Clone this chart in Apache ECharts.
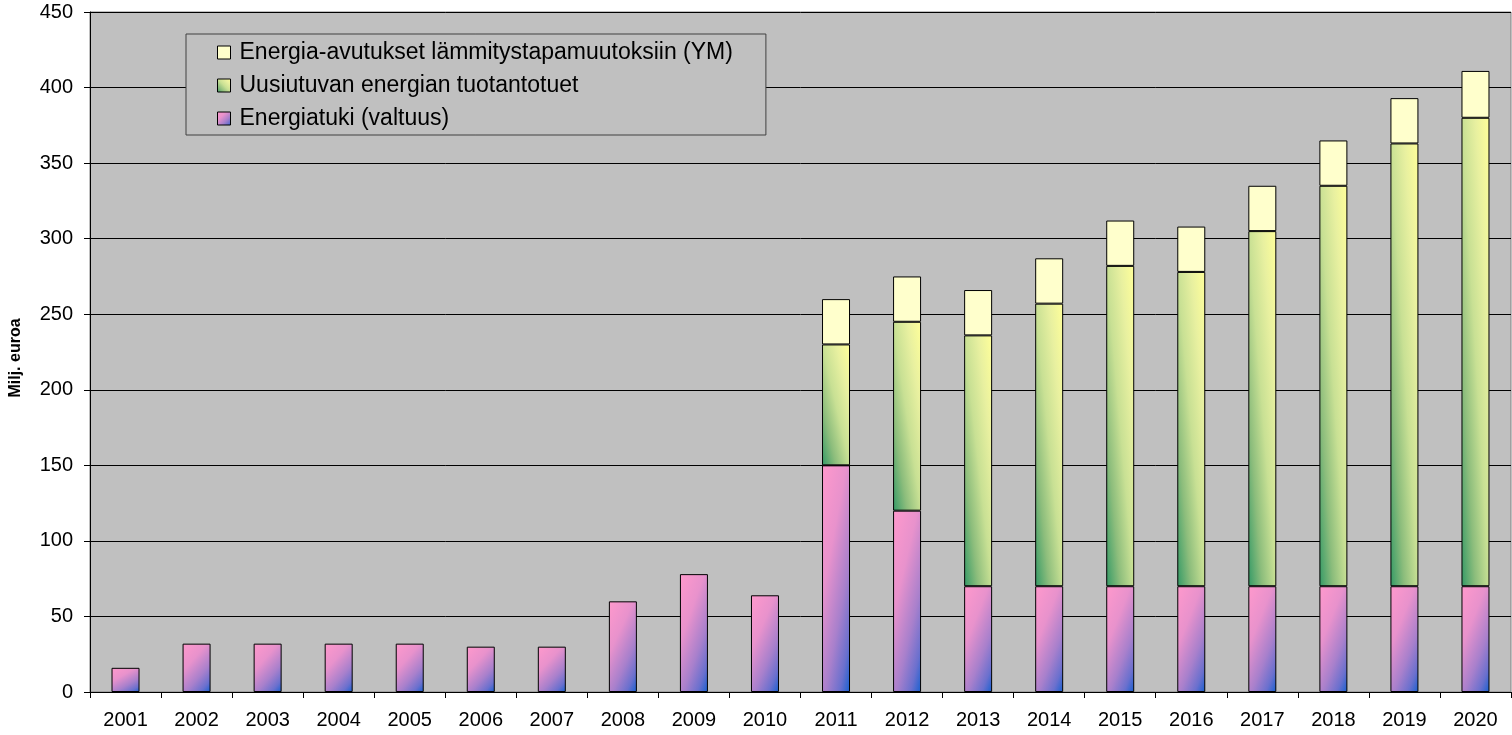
<!DOCTYPE html>
<html>
<head>
<meta charset="utf-8">
<script src="https://cdn.jsdelivr.net/npm/echarts@6/dist/echarts.min.js"></script>
<style>
  html, body { margin: 0; padding: 0; background: #ffffff; }
  #chart { width: 1512px; height: 735px; }
</style>
</head>
<body>
<div id="chart"></div>
<script>
const years = ['2001','2002','2003','2004','2005','2006','2007','2008','2009','2010',
               '2011','2012','2013','2014','2015','2016','2017','2018','2019','2020'];
const energiatuki = [16, 32, 32, 32, 32, 30, 30, 60, 78, 64, 150, 120, 70, 70, 70, 70, 70, 70, 70, 70];
const uusiutuva   = [null, null, null, null, null, null, null, null, null, null, 80, 125, 166, 187, 212, 208, 235, 265, 293, 310];
const lammitys    = [null, null, null, null, null, null, null, null, null, null, 30, 30, 30, 30, 30, 30, 30, 30, 30, 31];
const yTicks = { min: 0, max: 450, interval: 50 };
const names = {
  tuki: 'Energiatuki (valtuus)',
  uusi: 'Uusiutuvan energian tuotantotuet',
  lamm: 'Energia-avutukset lämmitystapamuutoksiin (YM)'
};

const FONT = "'Liberation Sans', Arial, sans-serif";
const GRID = { left: 89, right: 1, top: 12, bottom: 43 };
const BAR_W = 28;
const chart = echarts.init(document.getElementById('chart'));
const pxPerUnit = (chart.getHeight() - GRID.top - GRID.bottom) / (yTicks.max - yTicks.min);

const PINK_STOPS = [
  { offset: 0, color: '#FF99CC' },
  { offset: 0.35, color: '#E892CC' },
  { offset: 0.65, color: '#A880CC' },
  { offset: 0.85, color: '#6A70CE' },
  { offset: 1, color: '#1560D0' }
];
const GREEN_STOPS = [
  { offset: 0, color: '#339966' },
  { offset: 0.25, color: '#8CBD7C' },
  { offset: 0.5, color: '#C8E094' },
  { offset: 0.75, color: '#E8F0A0' },
  { offset: 1, color: '#FFFF99' }
];
const CREAM = '#FFFFCC';

// slanted "corner" gradient: t = a*x/w + (1-a)*y/h  (in the bar's own box)
function grad(h, fromBottom, stops, a) {
  const w = BAR_W;
  h = Math.max(h, 1);
  const g2 = a * a / (w * w) + (1 - a) * (1 - a) / (h * h);
  const x2 = a / (w * w * g2);
  const y2 = (1 - a) / (h * h * g2);
  return fromBottom
    ? new echarts.graphic.LinearGradient(0, 1, x2, 1 - y2, stops)
    : new echarts.graphic.LinearGradient(0, 0, x2, y2, stops);
}

function items(arr, fn) {
  return arr.map(v => v == null ? '-' : { value: v, itemStyle: fn ? { color: fn(v * pxPerUnit) } : {} });
}

const border = { borderColor: '#000', borderWidth: 1 };

chart.setOption({
  animation: false,
  backgroundColor: '#ffffff',
  textStyle: { fontFamily: FONT },
  grid: Object.assign({ show: true, backgroundColor: '#C0C0C0', borderColor: '#808080', borderWidth: 1 }, GRID),
  legend: {
    data: [names.lamm, names.uusi, names.tuki],
    orient: 'vertical',
    left: 186, top: 34,
    padding: [7, 33, 5, 31],
    itemGap: 10,
    itemWidth: 13, itemHeight: 13,
    icon: 'rect',
    backgroundColor: '#C0C0C0',
    borderColor: '#404040', borderWidth: 1,
    textStyle: { fontSize: 23, color: '#000', fontFamily: FONT, padding: [0, 0, 0, 4] },
    itemStyle: { borderColor: '#000', borderWidth: 1 }
  },
  xAxis: {
    type: 'category',
    data: years,
    axisLine: { lineStyle: { color: '#000', width: 1 } },
    axisTick: { show: true, length: 6, lineStyle: { color: '#000' } },
    axisLabel: { fontSize: 20, color: '#000', margin: 18, fontFamily: FONT }
  },
  yAxis: {
    type: 'value',
    min: yTicks.min, max: yTicks.max, interval: yTicks.interval,
    name: 'Milj. euroa',
    nameLocation: 'middle',
    nameGap: 66,
    nameTextStyle: { fontSize: 16, fontWeight: 'bold', color: '#000', fontFamily: FONT, padding: [0, 12, 0, 0] },
    axisLine: { show: true, lineStyle: { color: '#000', width: 1 } },
    axisTick: { show: true, length: 6, lineStyle: { color: '#000' } },
    axisLabel: { fontSize: 20, color: '#000', margin: 17, fontFamily: FONT },
    splitLine: { show: true, lineStyle: { color: '#000', width: 1 } }
  },
  series: [
    {
      name: names.tuki, type: 'bar', stack: 'total', barWidth: BAR_W,
      itemStyle: Object.assign({ color: new echarts.graphic.LinearGradient(0, 0, 1, 1, PINK_STOPS) }, border),
      data: items(energiatuki, h => grad(h, false, PINK_STOPS, 0.4))
    },
    {
      name: names.uusi, type: 'bar', stack: 'total', barWidth: BAR_W,
      itemStyle: Object.assign({ color: new echarts.graphic.LinearGradient(0, 1, 1, 0, GREEN_STOPS) }, border),
      data: items(uusiutuva, h => grad(h, true, GREEN_STOPS, 0.5))
    },
    {
      name: names.lamm, type: 'bar', stack: 'total', barWidth: BAR_W,
      itemStyle: Object.assign({ color: CREAM }, border),
      data: items(lammitys, null)
    }
  ]
});
</script>
</body>
</html>
